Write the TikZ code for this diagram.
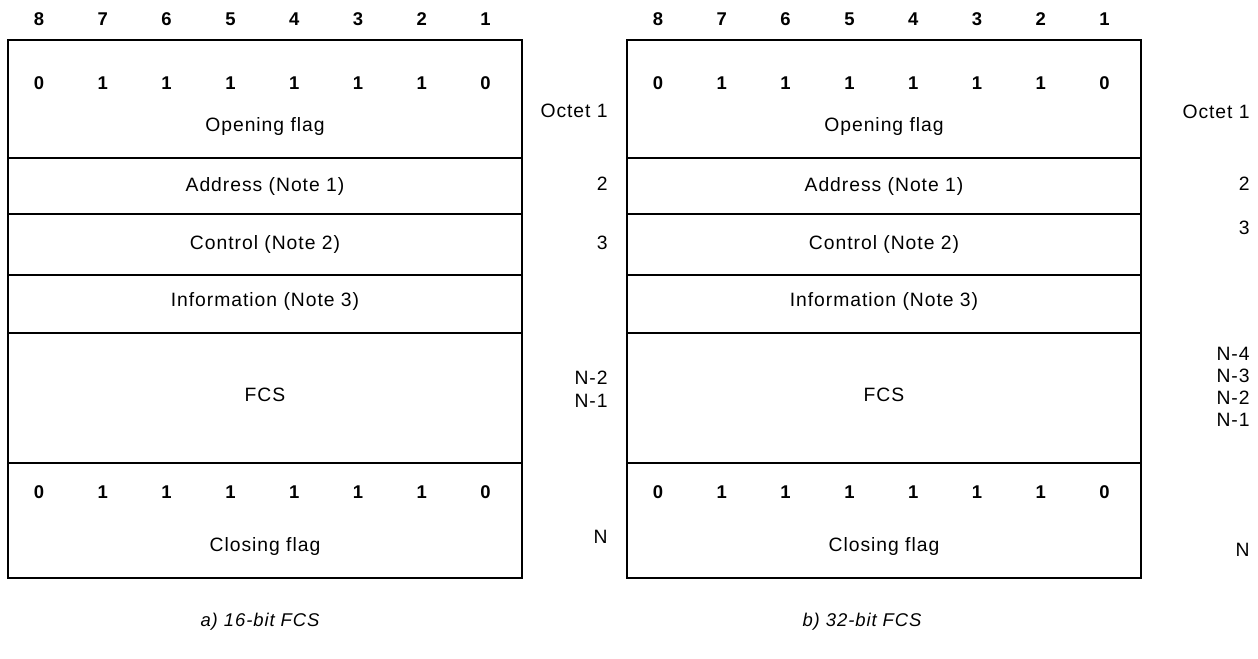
\documentclass[tikz,border=0pt]{standalone}
\usepackage{fontspec}
\setmainfont{Liberation Sans}[LetterSpace=5]
\usetikzlibrary{positioning,calc}
\tikzset{
	frame/.style={draw=black,line width=0.8pt},
	bit/.style={inner sep=0pt,text height=7.6pt,text depth=0pt,font=\fontsize{10.5}{12}\selectfont\bfseries},
	fld/.style={inner sep=0pt,text height=7.9pt,text depth=0pt,font=\fontsize{11}{13}\selectfont},
	oct/.style={fld,anchor=east},
	capt/.style={inner sep=0pt,font=\fontsize{10.5}{12}\selectfont\itshape},
}

\begin{document}
\begin{tikzpicture}[x=0.02cm,y=-0.02cm]
	\useasboundingbox (0,0) rectangle (1258,659);
	\foreach \p/\dx in {a/0,b/619}{
		\begin{scope}[shift={(\dx,0)}]
			\draw[frame] (8,40) rectangle (522,578);
			\foreach \y in {158,214,275,333,463}
			\draw[frame] (8,\y) -- (522,\y);
			\foreach \i in {1,...,8}
			\node[bit] (\p-h\i) at ({39+63.8*(8-\i)},19) {\i};
			\foreach \b [count=\k] in {0,1,1,1,1,1,1,0}{
				\node[bit] (\p-o\k) at ({39+63.8*(\k-1)},83) {\b};
				\node[bit] (\p-c\k) at ({39+63.8*(\k-1)},492) {\b};
			}
			\node[fld] (\p-open) at (265,125) {Opening flag};
			\node[fld] (\p-addr) at (265,185) {Address (Note 1)};
			\node[fld] (\p-ctrl) at (265,243) {Control (Note 2)};
			\node[fld] (\p-info) at (265,300) {Information (Note 3)};
			\node[fld] (\p-fcs) at (265,395) {FCS};
			\node[fld] (\p-close) at (265,545) {Closing flag};
		\end{scope}
	}
	% octet numbers, 16-bit
	\node[oct] (a-n1) at (608,111) {Octet 1};
	\node[oct] (a-n2) at (608,184) {2};
	\node[oct] (a-n3) at (608,243) {3};
	\node[oct] (a-nm2) at (608,378) {N-2};
	\node[oct] (a-nm1) at (608,401) {N-1};
	\node[oct] (a-n) at (608,537) {N};
	% octet numbers, 32-bit
	\node[oct] (b-n1) at (1250,112) {Octet 1};
	\node[oct] (b-n2) at (1250,184) {2};
	\node[oct] (b-n3) at (1250,228) {3};
	\node[oct] (b-nm4) at (1250,354) {N-4};
	\node[oct] (b-nm3) at (1250,376) {N-3};
	\node[oct] (b-nm2) at (1250,398) {N-2};
	\node[oct] (b-nm1) at (1250,420) {N-1};
	\node[oct] (b-n) at (1250,550) {N};
	\node[capt] (a-cap) at (260,622) {a) 16-bit FCS};
	\node[capt] (b-cap) at (862,622) {b) 32-bit FCS};
\end{tikzpicture}
\end{document}
